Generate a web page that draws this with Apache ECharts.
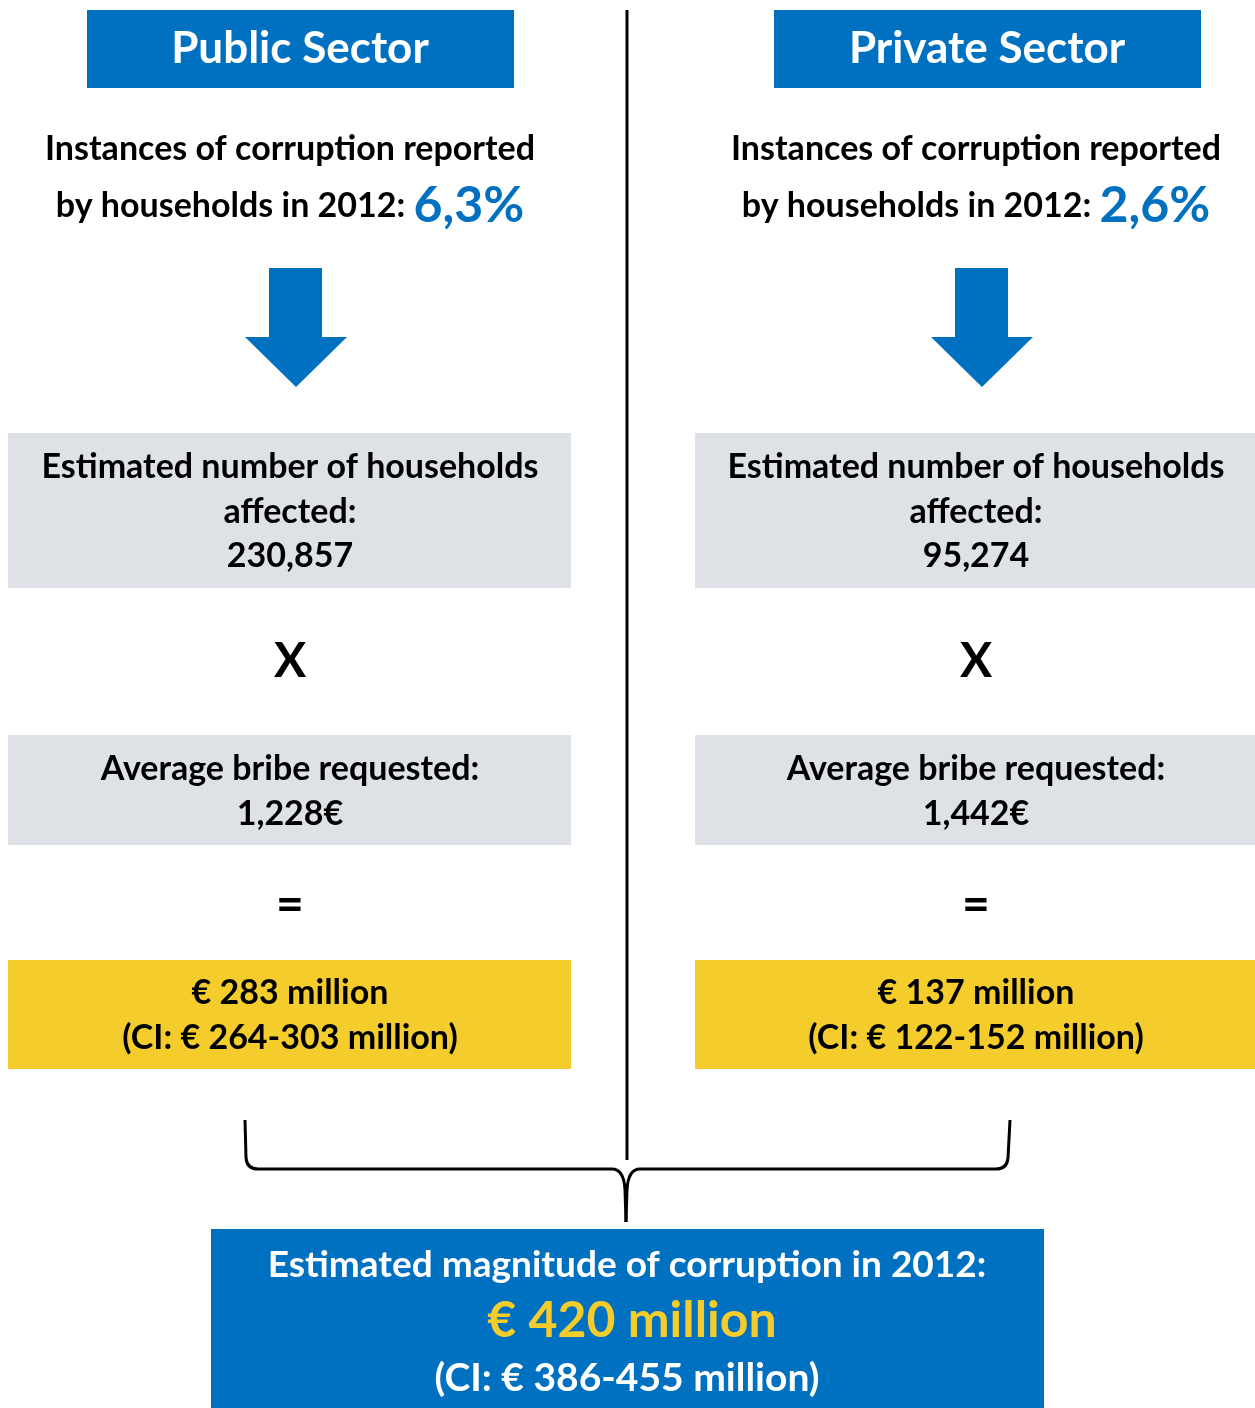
<!DOCTYPE html>
<html>
<head>
<meta charset="utf-8">
<title>Magnitude of corruption 2012</title>
<script src="https://cdn.jsdelivr.net/npm/echarts@6/dist/echarts.min.js"></script>
<style>
  html, body { margin: 0; padding: 0; background: #fff; }
  #chart { width: 1255px; height: 1408px; }
</style>
</head>
<body>
<div id="chart"></div>
<script>
// figures per sector
const sectors = ['Public Sector', 'Private Sector']
const reportedPct = ['6,3%', '2,6%']
const households = ['230,857', '95,274']
const avgBribe = ['1,228€', '1,442€']
const totalMillion = [283, 137]
const ciLow = [264, 122]
const ciHigh = [303, 152]
// overall
const overallYear = 2012
const overallTotal = 420
const overallCI = [386, 455]

const BLUE = '#0070C0'
const GREY = '#DEE1E6'
const YELLOW = '#F4CC2B'
const FONT = 'Lato, "Open Sans", sans-serif'
const BODY = 34

const chart = echarts.init(document.getElementById('chart'))

// column geometry
const headerX = [87, 774]
const boxX = [8, 695]
const boxW = [563, 560]
const centerX = [290, 976]
const arrowX = [296, 982]

function txt (x, y, text, size, color) {
  return {
    type: 'text',
    x: x,
    y: y,
    style: {
      text: text,
      fill: color || '#000',
      font: 'bold ' + size + 'px ' + FONT,
      align: 'center',
      verticalAlign: 'middle'
    }
  }
}

function rect (x, y, w, h, color) {
  return { type: 'rect', shape: { x: x, y: y, width: w, height: h }, style: { fill: color } }
}

function seg (type, shape) {
  return { type: type, shape: shape, style: { stroke: '#000', lineWidth: 3, fill: null } }
}

const elements = []

sectors.forEach(function (name, i) {
  const cx = centerX[i]
  // header
  elements.push(rect(headerX[i], 10, 427, 78, BLUE))
  elements.push(txt(headerX[i] + 213, 49, name, 44, '#fff'))
  // reported share
  elements.push(txt(cx, 149, 'Instances of corruption reported', BODY))
  elements.push({
    type: 'text',
    x: cx,
    y: 206,
    style: {
      text: '{a|by households in ' + overallYear + ': }{b|' + reportedPct[i] + '}',
      align: 'center',
      verticalAlign: 'middle',
      rich: {
        a: { fill: '#000', font: 'bold ' + BODY + 'px ' + FONT },
        b: { fill: BLUE, font: 'bold 50px ' + FONT }
      }
    }
  })
  // arrow
  const ax = arrowX[i]
  elements.push({
    type: 'polygon',
    shape: {
      points: [[ax - 27, 268], [ax + 26, 268], [ax + 26, 337], [ax + 51, 337],
        [ax, 387], [ax - 51, 337], [ax - 27, 337]]
    },
    style: { fill: BLUE }
  })
  // households
  elements.push(rect(boxX[i], 433, boxW[i], 155, GREY))
  elements.push(txt(cx, 467, 'Estimated number of households', BODY))
  elements.push(txt(cx, 512, 'affected:', BODY))
  elements.push(txt(cx, 556, households[i], BODY))
  elements.push(txt(cx, 662, 'X', 48))
  // bribe
  elements.push(rect(boxX[i], 735, boxW[i], 110, GREY))
  elements.push(txt(cx, 769, 'Average bribe requested:', BODY))
  elements.push(txt(cx, 814, avgBribe[i], BODY))
  elements.push(txt(cx, 906, '=', 48))
  // total
  elements.push(rect(boxX[i], 960, boxW[i], 109, YELLOW))
  elements.push(txt(cx, 993, '€ ' + totalMillion[i] + ' million', BODY))
  elements.push(txt(cx, 1038, '(CI: € ' + ciLow[i] + '-' + ciHigh[i] + ' million)', BODY))
})

// divider
elements.push({
  type: 'line',
  shape: { x1: 627, y1: 10, x2: 627, y2: 1160 },
  style: { stroke: '#000', lineWidth: 3 }
})

// brace joining both totals
elements.push(seg('line', { x1: 245, y1: 1120, x2: 246, y2: 1158 }))
elements.push(seg('bezierCurve', { x1: 246, y1: 1158, cpx1: 247, cpy1: 1169, x2: 258, y2: 1169 }))
elements.push(seg('line', { x1: 258, y1: 1169, x2: 612, y2: 1169 }))
elements.push(seg('bezierCurve', { x1: 612, y1: 1169, cpx1: 624, cpy1: 1169, x2: 625, y2: 1190 }))
elements.push(seg('line', { x1: 625, y1: 1190, x2: 626, y2: 1222 }))
elements.push(seg('line', { x1: 627, y1: 1190, x2: 626, y2: 1222 }))
elements.push(seg('bezierCurve', { x1: 640, y1: 1169, cpx1: 628, cpy1: 1169, x2: 627, y2: 1190 }))
elements.push(seg('line', { x1: 640, y1: 1169, x2: 996, y2: 1169 }))
elements.push(seg('bezierCurve', { x1: 996, y1: 1169, cpx1: 1007, cpy1: 1169, x2: 1008, y2: 1158 }))
elements.push(seg('line', { x1: 1008, y1: 1158, x2: 1010, y2: 1120 }))

// overall box
elements.push(rect(211, 1229, 833, 179, BLUE))
elements.push(txt(627, 1265, 'Estimated magnitude of corruption in ' + overallYear + ':', 37, '#fff'))
elements.push(txt(632, 1321, '€ ' + overallTotal + ' million', 50, YELLOW))
elements.push(txt(627, 1378, '(CI: € ' + overallCI[0] + '-' + overallCI[1] + ' million)', 39, '#fff'))

chart.setOption({
  backgroundColor: '#fff',
  animation: false,
  graphic: { elements: elements }
})
</script>
</body>
</html>
